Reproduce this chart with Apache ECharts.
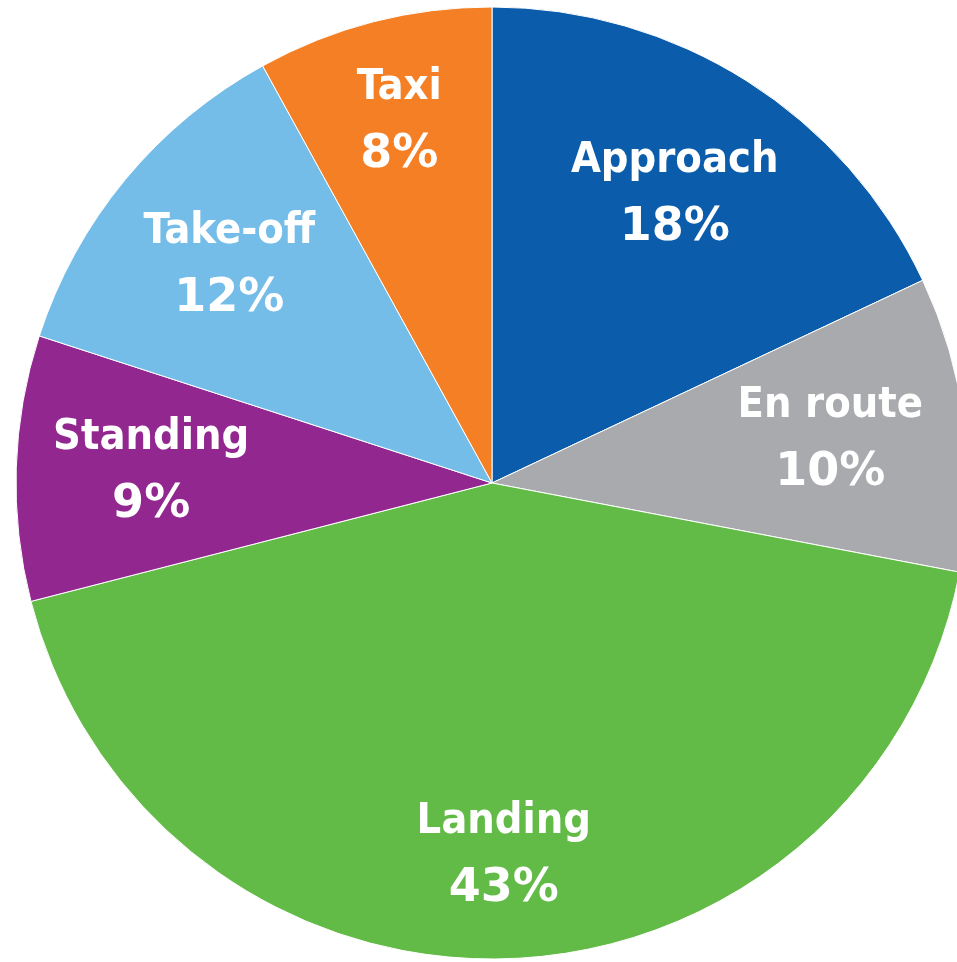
<!DOCTYPE html>
<html>
<head>
<meta charset="utf-8">
<script src="https://cdn.jsdelivr.net/npm/echarts@6/dist/echarts.min.js"></script>
<style>
html,body{margin:0;padding:0;background:#fff;}
#chart{width:957px;height:962px;}
</style>
</head>
<body>
<div id="chart"></div>
<script>
const categories = ['Approach', 'En route', 'Landing', 'Standing', 'Take-off', 'Taxi'];
const values = [18, 10, 43, 9, 12, 8];
const colors = ['#0B5DAB', '#A8AAAD', '#63BB47', '#92278F', '#74BDE8', '#F47F24'];
// labels placed on the outer ring (further from centre) in the reference
const outerLabelNames = ['Landing', 'Taxi'];

const chart = echarts.init(document.getElementById('chart'), null, {renderer: 'canvas'});
const pieData = categories.map((c, i) => ({name: c, value: values[i], itemStyle: {color: colors[i]}}));

const labelStyle = {
  show: true,
  position: 'inside',
  formatter: p => '{n|' + p.name + '}\n{v|' + p.value + '%}',
  rich: {
    n: {color: '#ffffff', fontFamily: 'DejaVu Sans Condensed', fontWeight: 'bold', fontSize: 43, lineHeight: 66, align: 'center'},
    v: {color: '#ffffff', fontFamily: 'DejaVu Sans', fontWeight: 'bold', fontSize: 46, lineHeight: 68, align: 'center'}
  }
};
function labelRing(radius, useOuter) {
  return {
    type: 'pie',
    center: [492, 483],
    radius: radius,
    startAngle: 90,
    clockwise: true,
    silent: true,
    itemStyle: {color: 'rgba(0,0,0,0)'},
    labelLine: {show: false},
    emphasis: {disabled: true},
    label: labelStyle,
    data: categories.map((c, i) => ({
      name: c,
      value: values[i],
      label: {show: outerLabelNames.includes(c) === useOuter}
    }))
  };
}

chart.setOption({
  backgroundColor: '#ffffff',
  animation: false,
  series: [
    {
      type: 'pie',
      center: [492, 483],
      radius: [0, 476],
      startAngle: 90,
      clockwise: true,
      silent: true,
      itemStyle: {borderColor: '#ffffff', borderWidth: 1},
      label: {show: false},
      labelLine: {show: false},
      emphasis: {disabled: true},
      data: pieData
    },
    labelRing([200, 476], false),
    labelRing([264, 476], true)
  ]
});
</script>
</body>
</html>
